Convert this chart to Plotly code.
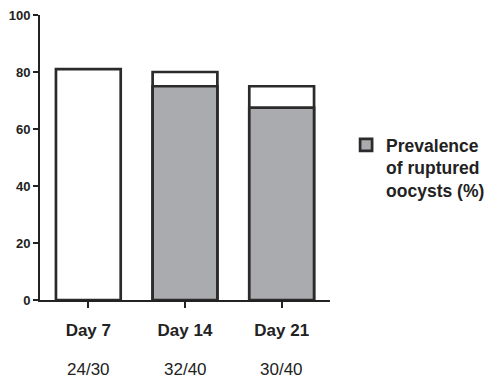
import plotly.graph_objects as go

categories = ["Day 7", "Day 14", "Day 21"]
fractions = ["24/30", "32/40", "30/40"]
total_pct = [81, 80, 75]
ruptured_pct = [None, 75, 67.5]
y_ticks = [0, 20, 40, 60, 80, 100]
legend_name = "<b>Prevalence<br>of ruptured<br>oocysts (%)</b>"

edge = dict(color="#2b2b2b", width=2.7)
fig = go.Figure()
fig.add_trace(go.Bar(x=categories, y=total_pct, width=0.67, marker=dict(color="white", line=edge),
                     showlegend=False, hoverinfo="skip"))
fig.add_trace(go.Bar(x=categories, y=ruptured_pct, width=0.67, marker=dict(color="#aaabaf", line=edge),
                     name=legend_name, showlegend=True))

for c, f in zip(categories, fractions):
    fig.add_annotation(x=c, y=-0.245, xref="x", yref="paper", text=f, showarrow=False,
                       font=dict(family="Arial", size=17, color="#222"), yanchor="middle")

fig.update_layout(
    template="none",
    width=493, height=379, barmode="overlay",
    margin=dict(l=40, r=163, t=15, b=79),
    plot_bgcolor="white", paper_bgcolor="white",
    font=dict(family="Arial", color="#222"),
    legend=dict(xref="container", yref="container", x=0.702, y=0.665, xanchor="left", yanchor="top",
                valign="top", font=dict(family="Arial", size=17.5, color="#222"), tracegroupgap=0),
    xaxis=dict(range=[-0.5, 2.5], showline=True, linecolor="#222", linewidth=2, automargin=False,
               ticks="outside", ticklen=6, tickwidth=2, tickcolor="#222", ticklabelstandoff=8,
               tickvals=categories, ticktext=["<b>%s</b>" % c for c in categories],
               tickfont=dict(family="Arial", size=17, color="#222"), showgrid=False, zeroline=False),
    yaxis=dict(range=[0, 100], tickvals=y_ticks, ticktext=["<b>%d</b>" % v for v in y_ticks],
               showline=True, linecolor="#222", linewidth=2, automargin=False,
               ticks="outside", ticklen=5, tickwidth=2, tickcolor="#222",
               tickfont=dict(family="Arial", size=13, color="#222"),
               showgrid=False, zeroline=False),
)
fig.write_html("out.html", config={"displayModeBar": False},
               post_script="document.body.style.margin='0';")
